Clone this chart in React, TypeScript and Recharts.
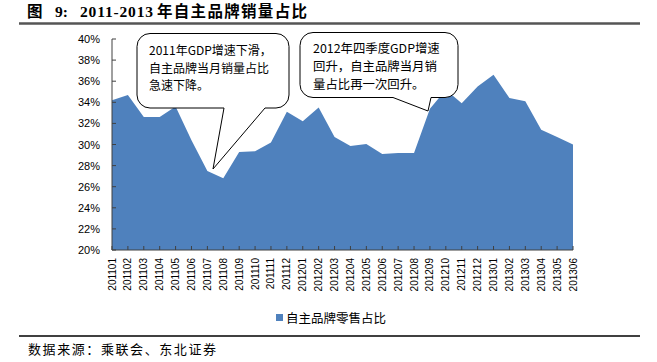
import { Area, AreaChart, Legend, XAxis, YAxis } from "recharts";

const months = [
  "201101", "201102", "201103", "201104", "201105", "201106",
  "201107", "201108", "201109", "201110", "201111", "201112",
  "201201", "201202", "201203", "201204", "201205", "201206",
  "201207", "201208", "201209", "201210", "201211", "201212",
  "201301", "201302", "201303", "201304", "201305", "201306",
];
// 自主品牌零售占比 (%)
const brandShare = [
  34.2, 34.7, 32.6, 32.6, 33.6, 30.4,
  27.5, 26.8, 29.3, 29.35, 30.2, 33.1,
  32.2, 33.5, 30.7, 29.85, 30.05, 29.1,
  29.2, 29.2, 33.4, 35.2, 33.9, 35.5,
  36.6, 34.4, 34.1, 31.4, 30.7, 30.0,
];
const yTicks = [20, 22, 24, 26, 28, 30, 32, 34, 36, 38, 40];
const seriesName = "自主品牌零售占比";

const data = months.map((m, i) => ({ month: m, share: brandShare[i] }));

const BLUE = "#4F81BD";
const AXIS = "#404040";
const CJK = "'Noto Sans CJK SC', sans-serif";
const LATIN = "'Liberation Sans', Arial, sans-serif";

function PercentTick({ x, y, payload }: any) {
  return (
    <g>
      <line x1={x} x2={x + 4} y1={y} y2={y} stroke={AXIS} />
      <text x={x - 12} y={y} textAnchor="end" dominantBaseline="central"
        fontSize={11} fontFamily={LATIN} fill="#000">
        {payload.value}%
      </text>
    </g>
  );
}

function MonthTick({ x, y, payload }: any) {
  const ty = y + 8;
  return (
    <g>
      <line x1={x} x2={x} y1={y - 4} y2={y} stroke={AXIS} />
      <text x={x} y={ty} transform={`rotate(-90 ${x} ${ty})`} textAnchor="end"
        dominantBaseline="central" fontSize={10} fontFamily={LATIN} fill="#000">
        {payload.value}
      </text>
    </g>
  );
}

// rounded box with a speech pointer on the bottom edge
function calloutPath(l: number, t: number, r: number, b: number, rad: number,
  baseL: number, baseR: number, tipX: number, tipY: number) {
  return [
    `M${l + rad},${t}`, `H${r - rad}`, `A${rad},${rad} 0 0 1 ${r},${t + rad}`,
    `V${b - rad}`, `A${rad},${rad} 0 0 1 ${r - rad},${b}`,
    `H${baseR}`, `L${tipX},${tipY}`, `L${baseL},${b}`,
    `H${l + rad}`, `A${rad},${rad} 0 0 1 ${l},${b - rad}`,
    `V${t + rad}`, `A${rad},${rad} 0 0 1 ${l + rad},${t}`, "Z",
  ].join(" ");
}

function LegendContent({ payload }: any) {
  return (
    <div style={{ display: "flex", alignItems: "center", height: 18, fontFamily: CJK, fontSize: 12.5, color: "#000" }}>
      {(payload || []).map((p: any) => (
        <span key={p.value} style={{ display: "flex", alignItems: "center" }}>
          <span style={{ width: 7, height: 7, background: BLUE, marginRight: 3, display: "inline-block" }} />
          {p.value}
        </span>
      ))}
    </div>
  );
}

export default function App() {
  return (
    <div style={{ position: "absolute", left: 0, top: 0, width: 657, height: 362, background: "#fff" }}>
      <AreaChart width={657} height={362} data={data}
        margin={{ top: 39, right: 84, bottom: 72, left: 0 }}>
        <Area type="linear" dataKey="share" name={seriesName} fill={BLUE} fillOpacity={1}
          stroke="none" isAnimationActive={false} />
        <YAxis domain={[20, 40]} ticks={yTicks} width={112} axisLine={{ stroke: AXIS }}
          tickLine={false} tickSize={0} tickMargin={0} tick={<PercentTick />} interval={0} />
        <XAxis dataKey="month" height={40} axisLine={{ stroke: AXIS }} tickLine={false}
          tickSize={0} tickMargin={0} tick={<MonthTick />} interval={0} />
        <Legend verticalAlign="middle" align="center" content={<LegendContent />}
          wrapperStyle={{ left: 276, top: 308, width: 140, height: 18 }} />
      </AreaChart>

      <svg width={657} height={362} style={{ position: "absolute", left: 0, top: 0, pointerEvents: "none" }}>
        <g fontWeight="bold" fontFamily={`'Liberation Serif', ${CJK}`} fontSize={15.5} fill="#000">
          <text x={27} y={17}>图</text>
          <text x={55} y={17}>9:</text>
          <text x={80} y={17} textLength={73} lengthAdjust="spacing">2011-2013</text>
          <text x={157} y={17} textLength={150} lengthAdjust="spacing">年自主品牌销量占比</text>
        </g>
        <line x1={19} x2={640} y1={23.5} y2={23.5} stroke="#555" strokeWidth={2.5} />

        <path d={calloutPath(137, 33.5, 289, 108, 13, 224, 265, 213, 169)}
          fill="#fff" stroke="#000" strokeWidth={1} />
        <g fontFamily={CJK} fontSize={12} fill="#000">
          <text x={149} y={54.5}>2011年GDP增速下滑，</text>
          <text x={149} y={72.5}>自主品牌当月销量占比</text>
          <text x={149} y={89.5}>急速下降。</text>
        </g>

        <path d={calloutPath(300, 32.5, 458, 97.5, 13, 393, 431, 428, 111)}
          fill="#fff" stroke="#000" strokeWidth={1} />
        <g fontFamily={CJK} fontSize={12.4} fill="#000">
          <text x={313} y={53}>2012年四季度GDP增速</text>
          <text x={313} y={71}>回升，自主品牌当月销</text>
          <text x={313} y={89}>量占比再一次回升。</text>
        </g>

        <line x1={19} x2={640} y1={336} y2={336} stroke="#000" strokeWidth={1.5} />
        <text x={28} y={354} fontFamily={CJK} fontSize={13} fill="#000"
          textLength={188} lengthAdjust="spacing">数据来源：乘联会、东北证券</text>
      </svg>
    </div>
  );
}
